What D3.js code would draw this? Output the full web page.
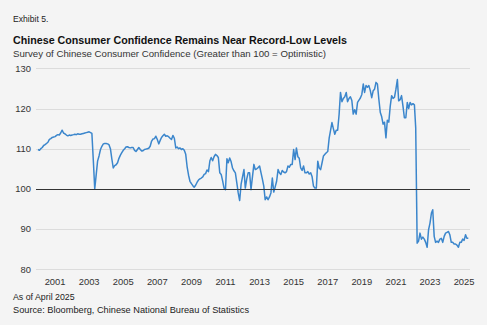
<!DOCTYPE html>
<html>
<head>
    <title>Chinese Consumer Confidence</title>
    <style>
        body { margin: 0; background: #f4f4f4; font-family: "Liberation Sans", Arial, sans-serif; }
        svg { display: block; }
        .grid line { stroke: #dcdcdc; stroke-width: 1; }
        .tick-label { fill: #333; font-size: 9.4px; }
    </style>
</head>
<body>
    <svg id="chart" width="487" height="325"></svg>
    <script src="https://d3js.org/d3.v7.min.js"></script>
    <script>
        // Monthly index, Jan 2000 .. Apr 2025
        const startMonth = "2000-01";
        const confidence = [
            // 2000
            109.8, 109.6, 110.0, 110.3, 110.8, 111.0, 111.3, 111.6, 112.3, 112.5, 112.8, 112.9,
            // 2001
            113.0, 113.3, 113.5, 113.4, 113.9, 114.6, 113.9, 113.7, 113.4, 113.2, 113.4, 113.3,
            // 2002
            113.4, 113.5, 113.6, 113.5, 113.7, 113.6, 113.6, 113.7, 113.8, 113.9, 114.0, 114.1,
            // 2003
            114.2, 114.0, 113.8, 107.0, 100.0, 103.5, 106.9, 108.2, 109.8, 110.6, 111.2, 111.3,
            // 2004
            111.3, 111.2, 111.0, 110.0, 107.5, 105.2, 105.8, 106.0, 106.5, 107.6, 108.4, 109.0,
            // 2005
            109.6, 110.0, 110.4, 110.5, 110.3, 110.2, 110.3, 110.3, 109.6, 109.3, 109.8, 110.3,
            // 2006
            109.8, 109.4, 109.5, 109.8, 109.9, 110.0, 110.1, 110.6, 111.9, 112.4, 112.5, 113.1,
            // 2007
            112.3, 111.2, 112.0, 112.8, 113.2, 113.6, 113.1, 113.2, 113.0, 112.6, 112.3, 113.3,
            // 2008
            112.6, 110.2, 110.4, 110.0, 110.2, 109.8, 110.0, 109.6, 108.6, 105.5, 103.4, 101.9,
            // 2009
            101.3, 100.8, 100.4, 100.9, 101.6, 102.2, 102.5, 102.7, 103.0, 103.6, 103.8, 104.7,
            // 2010
            104.3, 107.0, 107.8, 107.0, 108.0, 108.6, 108.3, 107.8, 104.0, 103.6, 102.0, 100.2,
            // 2011
            99.8, 107.5, 106.5, 107.7, 106.8, 105.2, 104.5, 104.0, 101.5, 99.0, 97.1, 101.1,
            // 2012
            103.0, 104.8, 100.2, 102.5, 104.0, 104.0, 99.8, 103.0, 106.1, 104.8, 105.0, 105.3,
            // 2013
            105.7, 104.0, 102.5, 100.7, 97.3, 98.0, 97.3, 98.0, 99.0, 102.7, 99.2, 100.5,
            // 2014
            101.9, 104.8, 104.0, 103.6, 104.6, 104.2, 104.0, 104.3, 105.7, 105.4, 106.1, 106.1,
            // 2015
            109.8, 107.3, 110.2, 108.0, 107.6, 105.2, 104.6, 105.7, 104.0, 104.0, 104.3, 103.7,
            // 2016
            104.0, 103.0, 100.7, 100.2, 100.2, 106.9, 105.2, 104.8, 106.5, 108.2, 108.6, 109.0,
            // 2017
            109.3, 112.7, 114.5, 116.5, 115.0, 113.6, 114.6, 114.6, 118.5, 124.0, 121.7, 122.5,
            // 2018
            122.9, 124.0, 121.7, 122.5, 122.9, 122.0, 118.6, 119.7, 118.6, 121.5, 122.1, 122.6,
            // 2019
            123.5, 126.1, 124.0, 125.7, 125.3, 125.7, 124.5, 122.7, 124.4, 124.8, 126.5, 126.1,
            // 2020
            122.3, 119.0, 118.0, 116.1, 116.6, 112.7, 117.1, 116.6, 120.6, 123.2, 122.5, 122.8,
            // 2021
            124.8, 127.2, 121.9, 122.2, 123.2, 120.6, 117.7, 117.7, 121.5, 120.0, 121.5, 120.9,
            // 2022
            121.2, 120.9, 115.2, 86.5, 87.0, 89.0, 87.5, 88.0, 87.5, 86.7, 85.5, 89.8,
            // 2023
            91.5, 94.0, 94.8, 88.2, 86.7, 87.0, 86.7, 87.5, 87.7, 86.7, 88.2, 89.0,
            // 2024
            89.2, 89.4, 88.6, 86.7, 86.7, 86.3, 86.3, 86.0, 85.5, 86.7, 86.7, 87.5,
            // 2025
            87.2, 88.6, 87.7, 87.7
        ];
        const yTicks = [80, 90, 100, 110, 120, 130];
        const xTickLabels = ["2001", "2003", "2005", "2007", "2009", "2011", "2013",
                             "2015", "2017", "2019", "2021", "2023", "2025"];

        const svg = d3.select("#chart");
        const parseMonth = d3.timeParse("%Y-%m");
        const start = parseMonth(startMonth);
        const data = confidence.map((v, i) => ({ date: d3.timeMonth.offset(start, i), value: v }));

        // Scales
        const x = d3.scaleTime()
            .domain([new Date(2000, 0, 1), new Date(2025, 3, 1)])
            .range([38, 468.3]);
        const y = d3.scaleLinear()
            .domain([80, 130])
            .range([269.3, 68.3]);

        const gridLeft = 36, gridRight = 470;

        // Gridlines
        svg.append("g").attr("class", "grid")
            .selectAll("line")
            .data(yTicks.filter(d => d !== 100))
            .enter().append("line")
            .attr("x1", gridLeft).attr("x2", gridRight)
            .attr("y1", d => Math.round(y(d)) + 0.5)
            .attr("y2", d => Math.round(y(d)) + 0.5);

        // Y labels
        svg.append("g")
            .selectAll("text")
            .data(yTicks)
            .enter().append("text")
            .attr("class", "tick-label")
            .attr("x", 31)
            .attr("y", d => y(d) + 3.3)
            .attr("text-anchor", "end")
            .text(d => d);

        // X labels
        svg.append("g")
            .selectAll("text")
            .data(xTickLabels)
            .enter().append("text")
            .attr("class", "tick-label")
            .attr("x", d => x(new Date(+d, 0, 1)))
            .attr("y", 284.5)
            .attr("text-anchor", "middle")
            .text(d => d);

        // Series
        const line = d3.line()
            .x(d => x(d.date))
            .y(d => y(d.value));

        svg.append("path")
            .datum(data)
            .attr("fill", "none")
            .attr("stroke", "#3b86cc")
            .attr("stroke-width", 1.5)
            .attr("stroke-linejoin", "round")
            .attr("d", line);

        // 100 reference line
        svg.append("line")
            .attr("x1", gridLeft).attr("x2", gridRight)
            .attr("y1", Math.round(y(100)) + 0.5)
            .attr("y2", Math.round(y(100)) + 0.5)
            .attr("stroke", "#333")
            .attr("stroke-width", 1.2);

        // Titles
        svg.append("text").attr("x", 13).attr("y", 21.5)
            .attr("font-size", 8.6).attr("fill", "#222")
            .text("Exhibit 5.");
        svg.append("text").attr("x", 13).attr("y", 43.5)
            .attr("font-size", 10.6).attr("font-weight", "bold").attr("fill", "#111")
            .attr("textLength", 334).attr("lengthAdjust", "spacingAndGlyphs")
            .text("Chinese Consumer Confidence Remains Near Record-Low Levels");
        svg.append("text").attr("x", 13).attr("y", 56.5)
            .attr("font-size", 9.4).attr("fill", "#333")
            .attr("textLength", 313).attr("lengthAdjust", "spacingAndGlyphs")
            .text("Survey of Chinese Consumer Confidence (Greater than 100 = Optimistic)");

        // Footer
        svg.append("text").attr("x", 13).attr("y", 300)
            .attr("font-size", 8.8).attr("fill", "#222")
            .text("As of April 2025");
        svg.append("text").attr("x", 13).attr("y", 312.7)
            .attr("font-size", 8.8).attr("fill", "#222")
            .attr("textLength", 236).attr("lengthAdjust", "spacingAndGlyphs")
            .text("Source: Bloomberg, Chinese National Bureau of Statistics");
    </script>
</body>
</html>
